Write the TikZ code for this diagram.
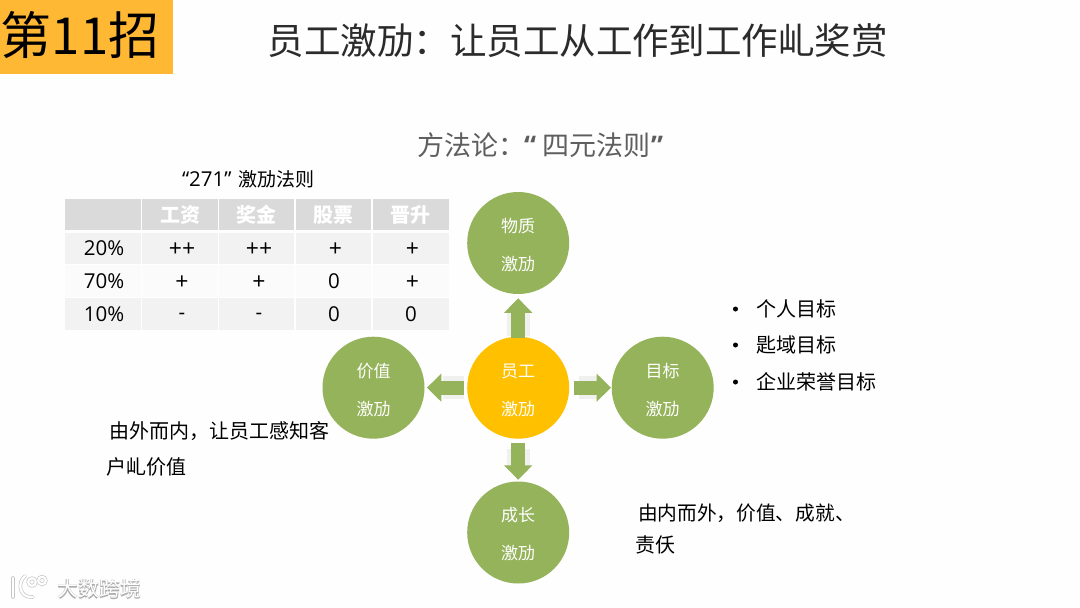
\documentclass[tikz,border=0pt]{standalone}
\usepackage{fontspec}
\setmainfont{Noto Sans CJK SC}
\newfontfamily\latinfont{Open Sans}
\usetikzlibrary{arrows.meta}
\definecolor{bgc}{HTML}{FDFEFD}
\definecolor{orangebox}{HTML}{FFB833}
\definecolor{greenc}{HTML}{94B35A}
\definecolor{amberc}{HTML}{FFC000}
\definecolor{headc}{HTML}{DADADA}
\definecolor{rowa}{HTML}{F2F2F2}
\definecolor{rowb}{HTML}{FBFBFB}
\definecolor{ghostc}{HTML}{F0F1EF}
\definecolor{titlec}{HTML}{2B2B2B}
\definecolor{subc}{HTML}{5E5E5E}
\newcommand{\fs}[1]{\fontsize{#1}{#1}\selectfont}
\newcommand{\twolines}[2]{\rule{0pt}{18pt}#1\\[21pt]#2}
\tikzset{
  x=1pt,y=-1pt,
  txt/.style={inner sep=0pt,outer sep=0pt,anchor=west,text=black,font=\fs{20}},
  circ/.style={circle,minimum size=102pt,inner sep=0pt,outer sep=0pt,text=white,
    font=\fs{17},align=center,fill=greenc},
  cella/.style={inner sep=0pt,text=black,font=\latinfont\fs{20.5}},
  cellp/.style={inner sep=0pt,text=black,font=\latinfont\fs{23}},
  cellh/.style={inner sep=0pt,text=white,font=\bfseries\fs{20}},
  blockarrow/.style={line width=14pt,greenc,-{Triangle[width=27.4pt,length=14.5pt]}},
  ghost/.style={line width=23pt,ghostc},
  wmline/.style={gray!45,line width=3.6pt,line cap=round},
  wmcore/.style={white,line width=2.2pt,line cap=round},
}
\begin{document}
\begin{tikzpicture}
\useasboundingbox (0,0) rectangle (1080,608);
\fill[bgc] (0,0) rectangle (1080,608);
% header
\fill[orangebox] (0,0) rectangle (173,73.5);
\node[txt,font=\fs{51}] (badge) at (1,35) {第11招};
\node[txt,text=titlec,font=\fs{36.5}] (title) at (267.5,41) {员工激劢：让员工从工作到工作乢奖赏};
\node[txt,text=subc,font=\fs{27}] (sub) at (417,145) {方法论：\hspace{-1pt}{\latinfont\bfseries “}\hspace{6pt}四元法则\hspace{1pt}{\latinfont\bfseries ”}};
% table
\node[txt,font=\fs{19}] (cap) at (182,179) {{\latinfont\fs{20.5}“271”}\hspace{6.5pt}激劢法则};
\foreach \xa/\xb in {64.7/140.8,141.9/218,219/294.4,295.5/371,372.6/448.7}{
  \fill[headc] (\xa,198.7) rectangle (\xb,229.7);
  \fill[rowa] (\xa,233) rectangle (\xb,263.7);
  \fill[rowb] (\xa,265) rectangle (\xb,297);
  \fill[rowa] (\xa,298.3) rectangle (\xb,329.7);
}
\node[cellh] (h1) at (180,215) {工资};
\node[cellh] (h2) at (256.5,215) {奖金};
\node[cellh] (h3) at (333,215) {股票};
\node[cellh] (h4) at (410,215) {晋升};
\node[cella] (r1) at (104,248) {20\%};
\node[cella] (r2) at (104,281) {70\%};
\node[cella] (r3) at (104,314) {10\%};
\node[cellp] (a1) at (182,249.5) {++};
\node[cellp] (a2) at (259,249.5) {++};
\node[cellp] (a3) at (335.5,249.5) {+};
\node[cellp] (a4) at (412.5,249.5) {+};
\node[cellp] (b1) at (182,282.5) {+};
\node[cellp] (b2) at (259,282.5) {+};
\node[cella] (b3) at (334,281) {0};
\node[cellp] (b4) at (412.5,282.5) {+};
\node[cella] (c1) at (182,316.5) {-};
\node[cella] (c2) at (259,316.5) {-};
\node[cella] (c3) at (334,314) {0};
\node[cella] (c4) at (411,314) {0};
% circles
\node[circ] (top) at (518.2,243) {\twolines{物质}{激劢}};
\node[circ,fill=amberc] (mid) at (518.2,387.7) {\twolines{员工}{激劢}};
\node[circ] (left) at (373.5,387.7) {\twolines{价值}{激劢}};
\node[circ] (right) at (662.7,387.7) {\twolines{目标}{激劢}};
\node[circ] (bot) at (518.2,532.5) {\twolines{成长}{激劢}};
% ghost shadows
\draw[ghost,shorten <=1pt,shorten >=19pt] (mid) -- (top);
\draw[ghost,shorten <=3pt,shorten >=18pt] (mid) -- (left);
\draw[ghost,shorten <=10pt,shorten >=15pt] (mid) -- (right);
\draw[ghost,shorten <=10pt,shorten >=16pt] (mid) -- (bot);
% arrows
\draw[blockarrow,shorten <=-1pt,shorten >=4.3pt] (mid) -- (top);
\draw[blockarrow,shorten <=3.3pt,shorten >=2.4pt] (mid) -- (left);
\draw[blockarrow,shorten <=5pt,shorten >=0.7pt] (mid) -- (right);
\draw[blockarrow,shorten <=4pt,shorten >=1.7pt] (mid) -- (bot);
% right list
\fill[black] (735.5,309) circle (2.5pt);
\fill[black] (735.5,345) circle (2.5pt);
\fill[black] (735.5,382) circle (2.5pt);
\node[txt] (g1) at (756,309) {个人目标};
\node[txt] (g2) at (756,345) {匙域目标};
\node[txt] (g3) at (756,382) {企业荣誉目标};
% notes
\node[txt] (n1) at (109,431) {由外而内，让员工感知客};
\node[txt] (n2) at (106,467) {户乢价值};
\node[txt,font=\fs{19.7}] (n3) at (638,513) {由内而外，价值、成就、};
\node[txt] (n4) at (635,545) {责仸};
% watermark
\draw[wmline] (13,578) -- (13,597);
\draw[wmline] (25,576) .. controls (17,583) and (19,598) .. (33,597);
\draw[wmline] (32,582) circle (3.8pt);
\draw[wmline] (42,580.5) circle (3.8pt);
\draw[wmcore] (13,578) -- (13,597);
\draw[wmcore] (25,576) .. controls (17,583) and (19,598) .. (33,597);
\draw[wmcore] (32,582) circle (3.8pt);
\draw[wmcore] (42,580.5) circle (3.8pt);
\node[txt,text=gray!65,font=\bfseries\fs{21}] (wm0) at (57.6,589) {大数跨境};
\node[txt,text=white,font=\fs{21}] (wm) at (57,588.4) {大数跨境};
\end{tikzpicture}
\end{document}
